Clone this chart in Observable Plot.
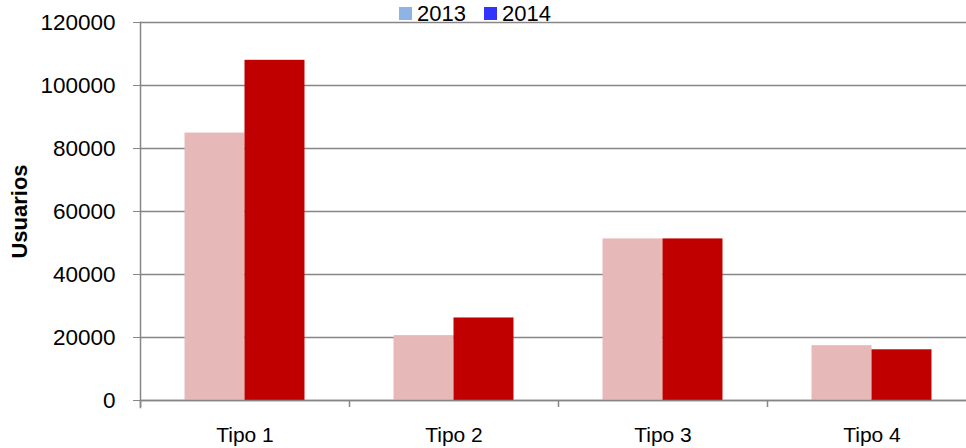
<!DOCTYPE html>
<html><head><meta charset="utf-8">
<script src="https://cdn.jsdelivr.net/npm/d3@7"></script>
<script src="https://cdn.jsdelivr.net/npm/@observablehq/plot@0.6"></script>
<style>
html,body{margin:0;padding:0;background:#fff;overflow:hidden;}
#wrap{position:relative;width:966px;height:448px;overflow:hidden;}
#wrap svg{position:absolute;left:0;top:0;max-width:none;}
#legend{position:absolute;z-index:2;top:3px;left:399px;display:flex;align-items:center;font:22px "Liberation Sans",Arial,sans-serif;line-height:21px;color:#000;}
.item{display:flex;align-items:center;margin-right:18px;}
.sw{display:inline-block;width:13px;height:13px;margin-right:5px;}
[aria-label="y-axis label"] text{font-weight:bold;font-size:22px;}
</style></head><body><div id="wrap"><div id="legend"></div></div>
<script>
const categories = ["Tipo 1", "Tipo 2", "Tipo 3", "Tipo 4"];
const years = ["2013", "2014"];
const usuarios2013 = [84900, 20600, 51300, 17400];
const usuarios2014 = [108000, 26200, 51300, 16100];
const yTicks = [0, 20000, 40000, 60000, 80000, 100000, 120000];
const barColors = ["#E6B9B8", "#C00000"];
const legendColors = ["#8DB4E2", "#3333FF"];
const yLabel = "Usuarios";

const rows2013 = categories.map((c, i) => ({category: c, year: years[0], value: usuarios2013[i]}));
const rows2014 = categories.map((c, i) => ({category: c, year: years[1], value: usuarios2014[i]}));

const frameLeft = 140, frameRight = 976;
const step = (frameRight - frameLeft) / categories.length;
const barW = step * 0.287;
const gap = (step - 2 * barW) / 2;
const gray = "#868686";

const chart = Plot.plot({
  width: frameRight, height: 448,
  marginLeft: frameLeft, marginRight: 0, marginTop: 22, marginBottom: 48,
  style: {fontFamily: '"Liberation Sans", Arial, sans-serif', fontSize: "22px", color: "#000", background: "transparent", maxWidth: "none"},
  x: {domain: categories, padding: 0, axis: null},
  y: {domain: [0, 120000], axis: null},
  color: {domain: years, range: barColors},
  marks: [
    Plot.gridY(yTicks, {stroke: gray, strokeOpacity: 1, strokeWidth: 1.5}),
    Plot.barY(rows2013, {x: "category", y: "value", fill: "year", insetLeft: gap, insetRight: gap + barW}),
    Plot.barY(rows2014, {x: "category", y: "value", fill: "year", insetLeft: gap + barW, insetRight: gap}),
    Plot.ruleY([0], {stroke: gray, strokeWidth: 1.5}),
    Plot.frame({anchor: "left", stroke: gray, strokeWidth: 1.5, insetBottom: -7}),
    Plot.ruleX(categories, {x: d => d, dx: -step / 2, y1: 0, y2: 0, insetBottom: -7, stroke: gray, strokeWidth: 1.5}),
    Plot.axisY(yTicks, {tickFormat: "d", tickSize: 7, tickPadding: 18, stroke: gray, fontSize: 22.5, label: yLabel, labelAnchor: "center", labelArrow: "none", labelOffset: 129}),
    Plot.axisX({tickSize: 0, tickPadding: 27, fontSize: 21, label: null})
  ]
});
document.getElementById("wrap").appendChild(chart);

const legend = document.getElementById("legend");
years.forEach((y, i) => {
  const item = document.createElement("span");
  item.className = "item";
  const sw = document.createElement("span");
  sw.className = "sw";
  sw.style.background = legendColors[i];
  item.appendChild(sw);
  item.appendChild(document.createTextNode(y));
  legend.appendChild(item);
});
</script>
</body></html>
